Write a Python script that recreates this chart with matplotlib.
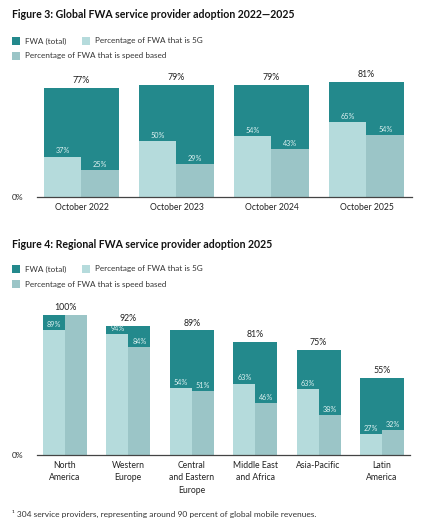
import matplotlib
matplotlib.use("Agg")
import matplotlib.pyplot as plt
from matplotlib.patches import Rectangle

plt.rcParams['font.family'] = ['Lato', 'DejaVu Sans']

# ---- data ----
years = ["October 2022", "October 2023", "October 2024", "October 2025"]
global_total = [77, 79, 79, 81]
global_5g = [37, 50, 54, 65]
global_speed = [25, 29, 43, 54]

regions = ["North\nAmerica", "Western\nEurope", "Central\nand Eastern\nEurope",
           "Middle East\nand Africa", "Asia-Pacific", "Latin\nAmerica"]
region_total = [100, 92, 89, 81, 75, 55]
region_5g = [89, 94, 54, 63, 63, 27]
region_speed = [100, 84, 51, 46, 38, 32]

legend_labels = ["FWA (total)", "Percentage of FWA that is 5G",
                 "Percentage of FWA that is speed based"]
titles = ["Figure 3: Global FWA service provider adoption 2022\u20142025",
          "Figure 4: Regional FWA service provider adoption 2025"]
footnote = "\u00b9 304 service providers, representing around 90 percent of global mobile revenues."

C_TOTAL = "#23898c"
C_5G = "#b5dbdc"
C_SPEED = "#9bc5c7"
C_INNER = "#dcf0f0"
C_TEXT = "#222222"

W, H = 424, 527
fig = plt.figure(figsize=(W / 100, H / 100), dpi=100)


def px(x, y):
    return x / W, 1 - y / H


def legend(y0):
    items = [(12, y0, C_TOTAL, legend_labels[0]),
             (82, y0, C_5G, legend_labels[1]),
             (12, y0 + 15, C_SPEED, legend_labels[2])]
    for x, y, c, t in items:
        fx, fy = px(x, y + 4)
        fig.patches.append(Rectangle((fx, fy), 8 / W, 8 / H, transform=fig.transFigure,
                                     facecolor=c, edgecolor='none'))
        tx, ty = px(x + 13, y)
        fig.text(tx, ty, t, fontsize=5.9, color="#333333", va='center', ha='left')


def chart(rect, cats, total, g5, speed, width, xlim, fs_cat):
    ax = fig.add_axes(rect)
    xs = list(range(len(cats)))
    h5 = [t * v / 100 for t, v in zip(total, g5)]
    hs = [t * v / 100 for t, v in zip(total, speed)]
    ax.bar(xs, total, width=width, color=C_TOTAL, zorder=1)
    ax.bar([x - width / 4 for x in xs], h5, width=width / 2, color=C_5G, zorder=2)
    ax.bar([x + width / 4 for x in xs], hs, width=width / 2, color=C_SPEED, zorder=2)
    for x, t in zip(xs, total):
        ax.annotate(f"{t}%", (x, t), xytext=(0, 2), textcoords='offset points',
                    ha='center', va='bottom', fontsize=6.3, color=C_TEXT)
    for i, x in enumerate(xs):
        if h5[i] < total[i] - 1:
            ax.annotate(f"{g5[i]}%", (x - width / 4, h5[i]), xytext=(0, 1.5),
                        textcoords='offset points', ha='center', va='bottom',
                        fontsize=5.2, color=C_INNER)
        if hs[i] < total[i] - 1:
            ax.annotate(f"{speed[i]}%", (x + width / 4, hs[i]), xytext=(0, 1.5),
                        textcoords='offset points', ha='center', va='bottom',
                        fontsize=5.2, color=C_INNER)
    ax.set_xlim(*xlim)
    ax.set_ylim(0, 100)
    for s in ['top', 'right', 'left']:
        ax.spines[s].set_visible(False)
    ax.spines['bottom'].set_color("#444444")
    ax.spines['bottom'].set_linewidth(0.9)
    ax.set_yticks([0])
    ax.set_yticklabels(["0%"], fontsize=6, color=C_TEXT)
    ax.tick_params(axis='y', length=0, pad=10)
    ax.set_xticks(xs)
    ax.set_xticklabels(cats, fontsize=fs_cat, color=C_TEXT, linespacing=1.55)
    ax.tick_params(axis='x', length=0, pad=4)
    ax.patch.set_alpha(0)
    return ax


# Figure 3
fig.text(*px(12, 15), titles[0], fontsize=7.6, fontweight='bold', color="#111111",
         va='center', ha='left')
legend(41)
l, b = px(37, 197)
chart([l, b, (412 - 37) / W, 142 / H], years, global_total, global_5g, global_speed,
      0.79, (-0.468, 3.479), 6.2)

# Figure 4
fig.text(*px(12, 245), titles[1], fontsize=7.6, fontweight='bold', color="#111111",
         va='center', ha='left')
legend(269)
l, b = px(37, 455)
chart([l, b, (410 - 37) / W, 140 / H], regions, region_total, region_5g, region_speed,
      0.69, (-0.44, 5.44), 6.2)

fig.text(*px(12, 514), footnote, fontsize=6.0, color="#333333", va='center', ha='left')

fig.savefig("out.png", dpi=100, facecolor='white')
